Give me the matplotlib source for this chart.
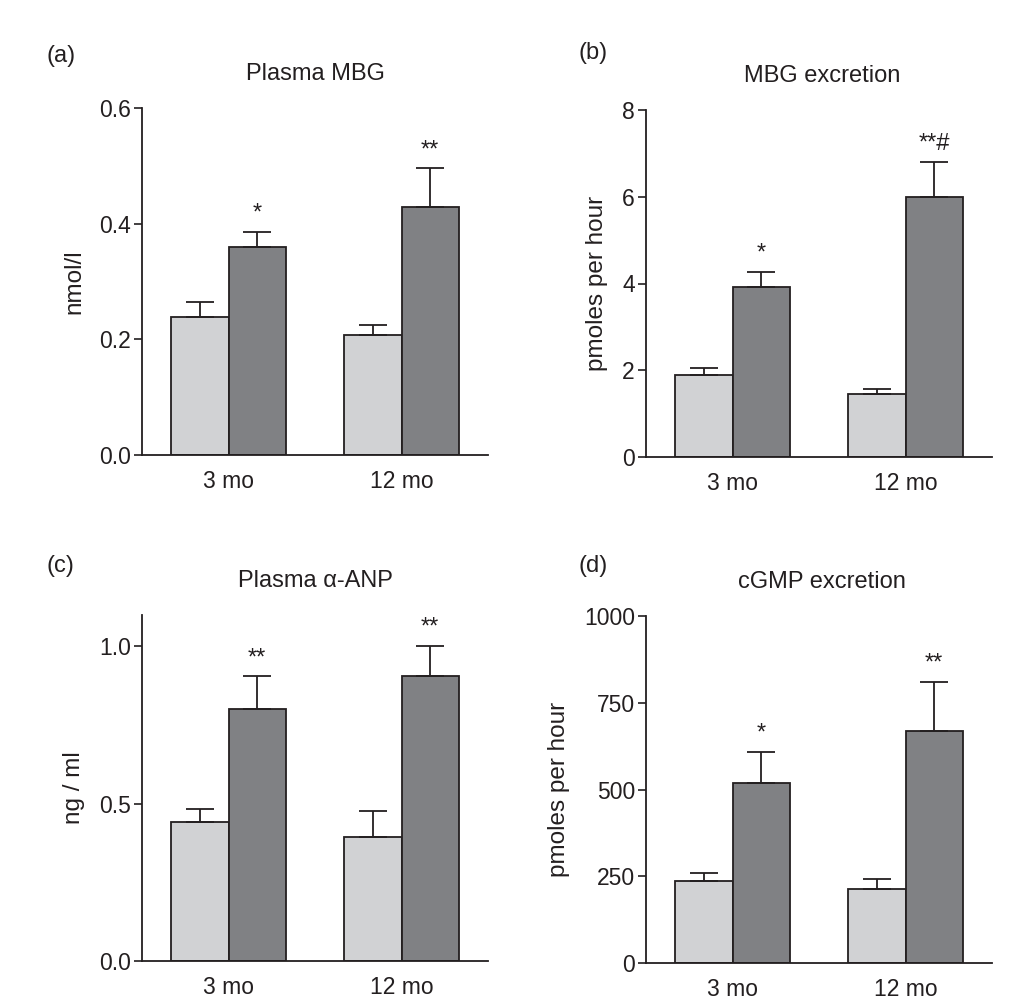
import numpy as np
import matplotlib
matplotlib.use("Agg")
from matplotlib import pyplot as plt

plt.rcParams['font.family'] = ['Liberation Sans', 'DejaVu Sans']

groups = ['3 mo', '12 mo']

# panel (a) Plasma MBG, nmol/l
mbg_ctrl = [0.239, 0.207]
mbg_ctrl_sem = [0.026, 0.017]
mbg_trt = [0.360, 0.428]
mbg_trt_sem = [0.026, 0.068]

# panel (b) MBG excretion, pmoles per hour
mbgx_ctrl = [1.89, 1.45]
mbgx_ctrl_sem = [0.17, 0.12]
mbgx_trt = [3.93, 6.00]
mbgx_trt_sem = [0.34, 0.81]

# panel (c) Plasma alpha-ANP, ng/ml
anp_ctrl = [0.441, 0.395]
anp_ctrl_sem = [0.041, 0.081]
anp_trt = [0.801, 0.906]
anp_trt_sem = [0.104, 0.096]

# panel (d) cGMP excretion, pmoles per hour
cgmp_ctrl = [237, 214]
cgmp_ctrl_sem = [22, 28]
cgmp_trt = [520, 670]
cgmp_trt_sem = [89, 141]

sig_a = ['*', '**']
sig_b = ['*', '**#']
sig_c = ['**', '**']
sig_d = ['*', '**']

light = '#d1d2d4'
dark = '#808184'
ink = '#231f20'

fig = plt.figure(figsize=(10.24, 10.08), dpi=100)


def draw_panel(rect, ctrl, ctrl_sem, trt, trt_sem, sig, title, ylabel,
               ylim, yticks, yfmt, letter, letter_xy, title_x):
    ax = fig.add_axes(rect)
    x = np.arange(len(groups))
    w = 0.33
    ekw = dict(ecolor=ink, elinewidth=1.3, capsize=10, capthick=1.3)
    ax.bar(x - w / 2, ctrl, w, color=light, edgecolor=ink, linewidth=1.3,
           yerr=[np.zeros(len(ctrl)), ctrl_sem], error_kw=ekw, zorder=2)
    ax.bar(x + w / 2, trt, w, color=dark, edgecolor=ink, linewidth=1.3,
           yerr=[np.zeros(len(trt)), trt_sem], error_kw=ekw, zorder=2)
    for xi, m, s, lab in zip(x, trt, trt_sem, sig):
        ax.annotate(lab, (xi + w / 2, m + s), xytext=(0, 5),
                    textcoords='offset points', ha='center', va='bottom',
                    fontsize=17, color=ink)
    ax.set_xlim(-0.5, 1.5)
    ax.set_ylim(*ylim)
    ax.set_yticks(yticks)
    ax.set_yticklabels([yfmt.format(v) for v in yticks])
    ax.set_xticks(x)
    ax.set_xticklabels(groups)
    ax.tick_params(axis='x', length=0, pad=11, labelsize=16.5, colors=ink)
    ax.tick_params(axis='y', length=6, width=1.2, pad=2, labelsize=16.5,
                   colors=ink)
    for side in ['top', 'right']:
        ax.spines[side].set_visible(False)
    for side in ['left', 'bottom']:
        ax.spines[side].set_linewidth(1.3)
        ax.spines[side].set_color(ink)
    ax.set_ylabel(ylabel, fontsize=17.5, color=ink, labelpad=10)
    fig.text(title_x, rect[1] + rect[3] + 0.034, title, ha='center',
             va='center', fontsize=17, color=ink)
    fig.text(letter_xy[0], letter_xy[1], letter, ha='left', va='center',
             fontsize=17, color=ink)
    return ax


draw_panel([0.1387, 0.5486, 0.3379, 0.3443], mbg_ctrl, mbg_ctrl_sem,
           mbg_trt, mbg_trt_sem, sig_a, 'Plasma MBG', 'nmol/l',
           (0, 0.6), [0, 0.2, 0.4, 0.6], '{:.1f}', '(a)', (0.045, 0.944),
           0.308)
draw_panel([0.6309, 0.5466, 0.3379, 0.3443], mbgx_ctrl, mbgx_ctrl_sem,
           mbgx_trt, mbgx_trt_sem, sig_b, 'MBG excretion', 'pmoles per hour',
           (0, 8), [0, 2, 4, 6, 8], '{:.0f}', '(b)', (0.565, 0.947),
           0.803)
draw_panel([0.1387, 0.0466, 0.3379, 0.3433], anp_ctrl, anp_ctrl_sem,
           anp_trt, anp_trt_sem, sig_c, 'Plasma \u03b1-ANP', 'ng / ml',
           (0, 1.1), [0, 0.5, 1.0], '{:.1f}', '(c)', (0.045, 0.438),
           0.308)
draw_panel([0.6309, 0.0446, 0.3379, 0.3443], cgmp_ctrl, cgmp_ctrl_sem,
           cgmp_trt, cgmp_trt_sem, sig_d, 'cGMP excretion', 'pmoles per hour',
           (0, 1000), [0, 250, 500, 750, 1000], '{:.0f}', '(d)',
           (0.565, 0.438), 0.803)

fig.savefig('out.png', dpi=100, facecolor='white')
